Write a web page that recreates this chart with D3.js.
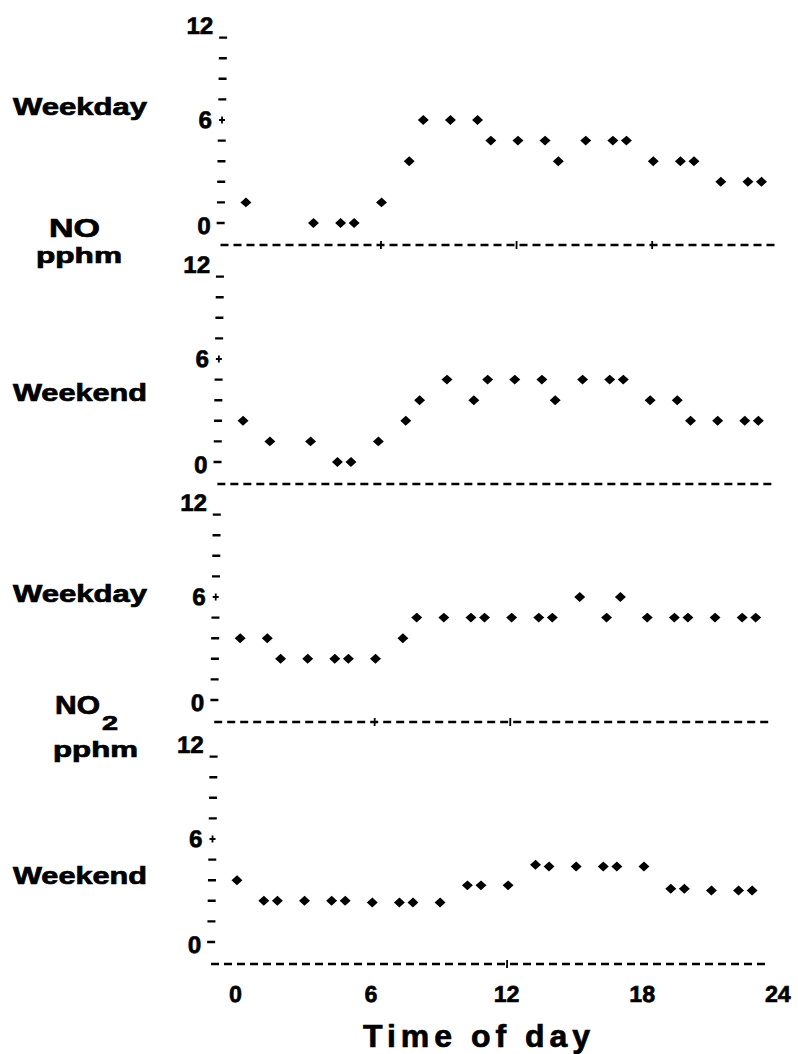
<!DOCTYPE html>
<html>
<head>
<meta charset="utf-8">
<script src="https://cdn.jsdelivr.net/npm/d3@7"></script>
<style>
  body { margin: 0; background: #fff; }
  text { font-family: "Liberation Sans", Arial, Helvetica, sans-serif; font-weight: bold; fill: #000;
         stroke: #000; stroke-width: 0.7px; }
</style>
</head>
<body>
<svg id="chart" width="798" height="1054"></svg>
<script>
// Hourly mean concentrations (pphm) by hour of day.
const noWeekdayHours  = [0, 3, 4, 5, 6, 7, 8, 9, 10, 11, 12, 13, 14, 15, 16, 17, 18, 19, 20, 21, 22, 23];
const noWeekdayValues = [1.2, 0, 0, 0, 1.2, 3.6, 6.0, 6.0, 6.0, 4.8, 4.8, 4.8, 3.6, 4.8, 4.8, 4.8, 3.6, 3.6, 3.6, 2.4, 2.4, 2.4];

const noWeekendHours  = [0, 1, 3, 4, 5, 6, 7, 8, 9, 10, 11, 12, 13, 14, 15, 16, 17, 18, 19, 20, 21, 22, 23];
const noWeekendValues = [2.4, 1.2, 1.2, 0, 0, 1.2, 2.4, 3.6, 4.8, 3.6, 4.8, 4.8, 4.8, 3.6, 4.8, 4.8, 4.8, 3.6, 3.6, 2.4, 2.4, 2.4, 2.4];

const no2WeekdayHours  = [0, 1, 2, 3, 4, 5, 6, 7, 8, 9, 10, 11, 12, 13, 14, 15, 16, 17, 18, 19, 20, 21, 22, 23];
const no2WeekdayValues = [3.6, 3.6, 2.4, 2.4, 2.4, 2.4, 2.4, 3.6, 4.8, 4.8, 4.8, 4.8, 4.8, 4.8, 4.8, 6.0, 4.8, 6.0, 4.8, 4.8, 4.8, 4.8, 4.8, 4.8];

const no2WeekendHours  = [0, 1, 2, 3, 4, 5, 6, 7, 8, 9, 10, 11, 12, 13, 14, 15, 16, 17, 18, 19, 20, 21, 22, 23];
const no2WeekendValues = [3.6, 2.4, 2.4, 2.4, 2.4, 2.4, 2.3, 2.3, 2.3, 2.3, 3.3, 3.3, 3.3, 4.5, 4.4, 4.4, 4.4, 4.4, 4.4, 3.1, 3.1, 3.0, 3.0, 3.0];

const panelNames   = ["Weekday", "Weekend", "Weekday", "Weekend"];
const yTickLabels  = ["0", "6", "12"];
const yMinorTicks  = [0, 1.2, 2.4, 3.6, 4.8, 7.2, 8.4, 9.6, 10.8];
const xTickLabels  = ["0", "6", "12", "18", "24"];
const axisCrosses  = [[6, 12, 18], [], [6, 12], [12]];

// Line-printer plots place each hour on the nearest character column (0.6 h wide).
const printCol = h => Math.round(h * 5 / 3) * 0.6;

const panels = [
  { hours: noWeekdayHours,  values: noWeekdayValues },
  { hours: noWeekendHours,  values: noWeekendValues },
  { hours: no2WeekdayHours, values: no2WeekdayValues },
  { hours: no2WeekendHours, values: no2WeekendValues }
];

const svg = d3.select("#chart");
const zeroY = [223, 462, 700, 942];
const plotH = 206;               // height of 0..12 pphm

const x = d3.scaleLinear().domain([0, 24]).range([242, 784.4]);
const x0 = x(0);

// the printed page sits slightly slanted
const plot = svg.append("g")
  .attr("transform", "translate(0,500) skewX(-0.757) translate(0,-500)");

panels.forEach((p, i) => {
  const y = d3.scaleLinear().domain([0, 12]).range([zeroY[i], zeroY[i] - plotH]);
  const g = plot.append("g");

  // minor ticks on the value axis
  g.selectAll("line.tick").data(yMinorTicks).join("line")
    .attr("x1", x0 - 29).attr("x2", x0 - 21)
    .attr("y1", d => y(d)).attr("y2", d => y(d))
    .attr("stroke", "#000").attr("stroke-width", 2.4);

  // "+" at 6
  g.append("line").attr("x1", x0 - 28).attr("x2", x0 - 22)
    .attr("y1", y(6)).attr("y2", y(6)).attr("stroke", "#000").attr("stroke-width", 1.8);
  g.append("line").attr("x1", x0 - 25).attr("x2", x0 - 25)
    .attr("y1", y(6) - 3.5).attr("y2", y(6) + 3.5).attr("stroke", "#000").attr("stroke-width", 1.8);

  // value labels 0, 6, 12
  const labelDy = { "0": 11, "6": 8, "12": 17 };
  g.selectAll("text.ylab").data(yTickLabels).join("text")
    .attr("x", x0 - 35)
    .attr("y", d => y(+d) + labelDy[d])
    .attr("text-anchor", "end")
    .attr("font-size", 24)
    .text(d => d);

  // dashed time axis under the panel
  const baseY = y(0) + 22;
  g.append("line")
    .attr("x1", x(-1.1)).attr("x2", x(23.6))
    .attr("y1", baseY).attr("y2", baseY)
    .attr("stroke", "#000").attr("stroke-width", 2.6)
    .attr("stroke-dasharray", "8,5");
  g.selectAll("line.cross").data(axisCrosses[i]).join("line")
    .attr("x1", d => x(d)).attr("x2", d => x(d))
    .attr("y1", baseY - 4).attr("y2", baseY + 4)
    .attr("stroke", "#000").attr("stroke-width", 1.8);

  // data points
  const pts = p.hours.map((h, k) => ({ t: printCol(h), v: p.values[k] }));
  g.selectAll("path.pt").data(pts).join("path")
    .attr("d", d3.symbol().type(d3.symbolSquare).size(60))
    .attr("transform", d => `translate(${x(d.t)},${y(d.v)}) scale(1,0.9) rotate(45)`)
    .attr("fill", "#000");
});

// hour labels under the bottom panel
plot.selectAll("text.xlab").data(xTickLabels).join("text")
  .attr("x", d => x(+d))
  .attr("y", 1002)
  .attr("text-anchor", "middle")
  .attr("font-size", 23)
  .text(d => d);

// left-hand captions
const captionBase = [115, 401, 602, 884];
svg.selectAll("text.panel").data(panelNames).join("text")
  .attr("x", 13).attr("y", (d, i) => captionBase[i])
  .attr("font-size", 23)
  .attr("textLength", 134).attr("lengthAdjust", "spacingAndGlyphs")
  .text(d => d);

svg.append("text").attr("x", 49).attr("y", 237).attr("font-size", 25)
  .attr("textLength", 51).attr("lengthAdjust", "spacingAndGlyphs").text("NO");
svg.append("text").attr("x", 36).attr("y", 263).attr("font-size", 22)
  .attr("textLength", 86).attr("lengthAdjust", "spacingAndGlyphs").text("pphm");

svg.append("text").attr("x", 55).attr("y", 714).attr("font-size", 25)
  .attr("textLength", 45).attr("lengthAdjust", "spacingAndGlyphs").text("NO");
svg.append("text").attr("x", 102).attr("y", 730).attr("font-size", 20)
  .attr("textLength", 16).attr("lengthAdjust", "spacingAndGlyphs").text("2");
svg.append("text").attr("x", 53).attr("y", 757).attr("font-size", 22)
  .attr("textLength", 85).attr("lengthAdjust", "spacingAndGlyphs").text("pphm");

svg.append("text").attr("x", 363).attr("y", 1047).attr("font-size", 32)
  .attr("textLength", 227).attr("lengthAdjust", "spacing").text("Time of day");
</script>
</body>
</html>
